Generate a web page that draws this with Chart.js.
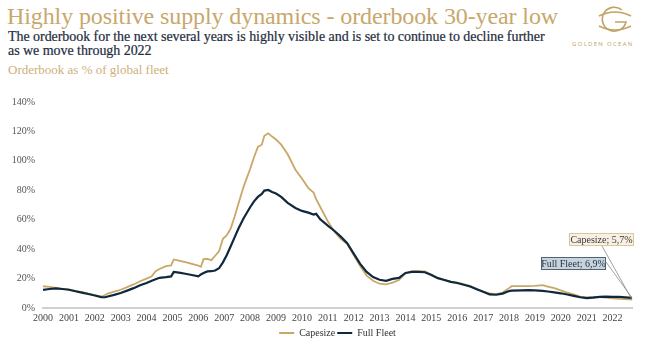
<!DOCTYPE html>
<html>
<head>
<meta charset="utf-8">
<script src="https://cdn.jsdelivr.net/npm/chart.js@4/dist/chart.umd.min.js"></script>
<style>
  html, body { margin:0; padding:0; background:#fff; width:660px; height:345px; overflow:hidden; }
  .t { position:absolute; white-space:nowrap; font-family:"Liberation Serif", serif; }
  #title { left:7px; top:2px; font-size:24px; line-height:28px; color:#C7A86C; letter-spacing:-0.1px; }
  #sub { left:8px; top:30px; font-size:14px; line-height:13.5px; color:#1E2D3D; letter-spacing:-0.05px; -webkit-text-stroke:0.2px #1E2D3D; }
  #unit { left:8px; top:62px; font-size:13px; line-height:16px; color:#CDB07A; }
  #logoTxt { left:572px; top:40px; font-family:"Open Sans", sans-serif; font-size:6px; letter-spacing:1.3px; color:#C2A266; }
  #logo { position:absolute; left:593px; top:4px; }
  #c { position:absolute; left:0; top:88px; }
</style>
</head>
<body>
<div class="t" id="title">Highly positive supply dynamics - orderbook 30-year low</div>
<div class="t" id="sub">The orderbook for the next several years is highly visible and is set to continue to decline further<br>as we move through 2022</div>
<div class="t" id="unit">Orderbook as % of global fleet</div>
<svg id="logo" width="44" height="34" viewBox="0 0 44 34">
  <g fill="none" stroke="#C2A266" stroke-width="1.6">
    <path d="M29 6 A12 12 0 1 0 33 18 L22 18"/>
    <path d="M6 12 Q22 4 38 12"/>
    <path d="M6 22 Q22 30 38 22"/>
  </g>
</svg>
<div class="t" id="logoTxt">GOLDEN OCEAN</div>
<canvas id="c" width="660" height="257"></canvas>
<script>
// ---- data ----
const years = [2000.0, 2000.25, 2000.5, 2000.75, 2001.0, 2001.25, 2001.5, 2001.75, 2002.0, 2002.25, 2002.4, 2002.5, 2002.75, 2003.0, 2003.25, 2003.5, 2003.75, 2004.0, 2004.2, 2004.35, 2004.5, 2004.75, 2004.95, 2005.05, 2005.25, 2005.5, 2005.75, 2006.0, 2006.1, 2006.2, 2006.35, 2006.5, 2006.65, 2006.8, 2006.95, 2007.1, 2007.25, 2007.4, 2007.55, 2007.75, 2008.0, 2008.15, 2008.3, 2008.45, 2008.55, 2008.7, 2008.85, 2009.0, 2009.2, 2009.45, 2009.75, 2010.0, 2010.25, 2010.45, 2010.55, 2010.7, 2011.0, 2011.25, 2011.5, 2011.75, 2012.0, 2012.25, 2012.5, 2012.75, 2013.0, 2013.25, 2013.5, 2013.75, 2014.0, 2014.25, 2014.5, 2014.75, 2015.0, 2015.25, 2015.5, 2015.75, 2016.0, 2016.25, 2016.5, 2016.75, 2017.0, 2017.25, 2017.5, 2017.75, 2018.0, 2018.1, 2018.5, 2018.75, 2019.0, 2019.3, 2019.5, 2019.75, 2020.0, 2020.25, 2020.5, 2020.75, 2021.0, 2021.25, 2021.5, 2021.75, 2022.0, 2022.25, 2022.5, 2022.75];

const capesize = [14.8, 14.3, 13.6, 13.0, 12.6, 11.6, 10.8, 9.8, 8.8, 7.8, 8.8, 9.8, 11.2, 12.4, 14.2, 16.0, 18.2, 20.0, 21.5, 25.0, 26.5, 28.5, 29.0, 33.0, 32.2, 31.2, 30.0, 28.8, 28.0, 33.2, 33.4, 32.5, 35.5, 38.5, 47.0, 49.5, 54.0, 62.0, 71.0, 82.5, 94.5, 102.5, 109.5, 111.0, 117.0, 118.7, 116.5, 114.5, 111.0, 104.5, 94.0, 88.0, 81.5, 78.5, 74.0, 69.0, 59.0, 52.0, 47.0, 43.5, 36.0, 28.5, 22.0, 18.5, 16.5, 16.0, 17.2, 19.0, 23.5, 25.0, 25.0, 24.8, 22.8, 20.5, 19.2, 18.0, 17.2, 16.3, 15.0, 13.0, 11.2, 9.9, 9.4, 10.5, 13.5, 14.8, 14.8, 14.8, 15.0, 15.5, 14.6, 13.5, 12.0, 10.5, 9.2, 7.8, 7.2, 7.5, 7.4, 7.0, 6.5, 6.2, 6.0, 5.7];

const fullFleet = [12.3, 12.9, 13.3, 12.9, 12.4, 11.4, 10.5, 9.5, 8.5, 7.4, 7.3, 7.8, 8.9, 10.2, 11.8, 13.5, 15.4, 17.0, 18.5, 19.5, 20.5, 21.0, 21.5, 24.5, 24.0, 23.3, 22.4, 21.5, 22.8, 23.8, 24.9, 25.0, 25.5, 27.0, 31.0, 36.0, 42.0, 48.0, 54.0, 61.0, 68.5, 72.5, 75.5, 77.5, 79.8, 80.2, 78.8, 77.8, 75.5, 71.5, 68.0, 66.0, 64.8, 63.5, 64.0, 60.5, 56.0, 52.5, 48.5, 44.0, 37.0, 30.0, 24.5, 21.0, 19.2, 18.5, 19.8, 20.5, 23.8, 24.5, 24.5, 24.3, 22.5, 20.3, 19.0, 17.8, 17.0, 15.8, 14.6, 12.8, 11.0, 9.2, 9.0, 9.8, 11.5, 11.8, 12.0, 12.1, 12.0, 11.6, 11.2, 10.6, 10.0, 9.2, 8.2, 7.3, 6.7, 7.0, 7.6, 7.7, 7.6, 7.5, 7.2, 6.9];

const seriesNames = ["Capesize", "Full Fleet"];
const yTicks = [0, 20, 40, 60, 80, 100, 120, 140];
const xTickYears = [2000, 2001, 2002, 2003, 2004, 2005, 2006, 2007, 2008, 2009, 2010, 2011, 2012, 2013, 2014, 2015, 2016, 2017, 2018, 2019, 2020, 2021, 2022];

const GOLD = "#C9A867";
const NAVY = "#10283D";
const FONT = "'Liberation Serif', serif";

const toPts = (arr) => arr.map((v, i) => ({ x: years[i], y: v }));

const endLabels = {
  id: "endLabels",
  afterDatasetsDraw(chart) {
    const ctx = chart.ctx;
    const xs = chart.scales.x, ys = chart.scales.y;
    const n = years.length - 1;
    const ex = xs.getPixelForValue(years[n]);
    const eyC = ys.getPixelForValue(capesize[n]);
    const eyF = ys.getPixelForValue(fullFleet[n]);
    const ca = chart.chartArea;
    ctx.save();
    ctx.font = "10px " + FONT;
    ctx.textBaseline = "middle";
    ctx.textAlign = "center";
    const cb = { x: ca.right - 63, y: ca.bottom - 75, w: 65, h: 13 };
    const fb = { x: ca.right - 91, y: ca.bottom - 51, w: 65, h: 13 };
    ctx.strokeStyle = "#8a8a8a";
    ctx.lineWidth = 0.8;
    ctx.beginPath();
    ctx.moveTo(cb.x + 33, cb.y + cb.h);
    ctx.lineTo(ex, eyC);
    ctx.moveTo(fb.x + fb.w, fb.y + 5);
    ctx.lineTo(ex, eyF);
    ctx.stroke();

    ctx.fillStyle = "#F7F0E3";
    ctx.fillRect(cb.x, cb.y, cb.w, cb.h);
    ctx.strokeStyle = "#DCC69C";
    ctx.lineWidth = 1;
    ctx.strokeRect(cb.x + 0.5, cb.y + 0.5, cb.w - 1, cb.h - 1);
    ctx.fillStyle = "#3A3A3A";
    ctx.fillText(seriesNames[0] + "; " + String(capesize[n]).replace(".", ",") + "%", cb.x + cb.w / 2, cb.y + cb.h / 2 + 0.5);

    ctx.fillStyle = "#C7D4DE";
    ctx.fillRect(fb.x, fb.y, fb.w, fb.h);
    ctx.strokeStyle = "#4F6475";
    ctx.strokeRect(fb.x + 0.5, fb.y + 0.5, fb.w - 1, fb.h - 1);
    ctx.fillStyle = "#2A3440";
    ctx.fillText(seriesNames[1] + "; " + String(fullFleet[n]).replace(".", ",") + "%", fb.x + fb.w / 2, fb.y + fb.h / 2 + 0.5);
    ctx.restore();
  }
};

const legendFix = {
  id: "legendFix",
  beforeInit(chart) {
    const orig = chart.legend.fit;
    chart.legend.fit = function () {
      orig.call(this);
      this.height = 19;
    };
  },
  afterLayout(chart) {
    // centre the legend under the plot area rather than the whole canvas
    const lg = chart.legend;
    const shift = (chart.chartArea.left + chart.chartArea.right) / 2 - (lg.left + lg.right) / 2;
    lg.left += shift;
    lg.right += shift;
  }
};

new Chart(document.getElementById("c"), {
  type: "line",
  data: {
    datasets: [
      { label: seriesNames[0], data: toPts(capesize), borderColor: GOLD, backgroundColor: GOLD, borderWidth: 1.8, pointRadius: 0, tension: 0, order: 2 },
      { label: seriesNames[1], data: toPts(fullFleet), borderColor: NAVY, backgroundColor: NAVY, borderWidth: 2.2, pointRadius: 0, tension: 0, order: 1 }
    ]
  },
  options: {
    responsive: false,
    animation: false,
    devicePixelRatio: 1,
    layout: { padding: { top: 12, right: 28, left: 0, bottom: 0 } },
    plugins: {
      tooltip: { enabled: false },
      legend: {
        position: "bottom",
        labels: {
          color: "#333",
          font: { family: FONT, size: 10 },
          boxWidth: 15,
          boxHeight: 2,
          padding: 2,
          generateLabels(chart) {
            const items = Chart.defaults.plugins.legend.labels.generateLabels(chart);
            items.forEach(it => { it.lineWidth = 0; });
            return items.sort((a, b) => a.datasetIndex - b.datasetIndex);
          }
        }
      }
    },
    scales: {
      x: {
        type: "linear",
        min: years[0],
        max: years[years.length - 1],
        grid: { display: false, drawTicks: false, tickLength: 0 },
        border: { display: true, color: "#D0D0D0", width: 2 },
        afterBuildTicks(scale) { scale.ticks = xTickYears.map(v => ({ value: v })); },
        afterFit(scale) { scale.height = 18; },
        ticks: {
          autoSkip: false, maxRotation: 0, padding: 4,
          color: "#444", font: { family: FONT, size: 10 },
          callback: (v) => String(v)
        }
      },
      y: {
        min: 0, max: 140,
        grid: { display: false, drawTicks: false },
        border: { display: false },
        afterBuildTicks(scale) { scale.ticks = yTicks.map(v => ({ value: v })); },
        afterFit(scale) { scale.width = 43; },
        ticks: {
          padding: 8, color: "#555", font: { family: FONT, size: 10 },
          callback: (v) => v + "%"
        }
      }
    }
  },
  plugins: [endLabels, legendFix]
});
</script>
</body>
</html>
